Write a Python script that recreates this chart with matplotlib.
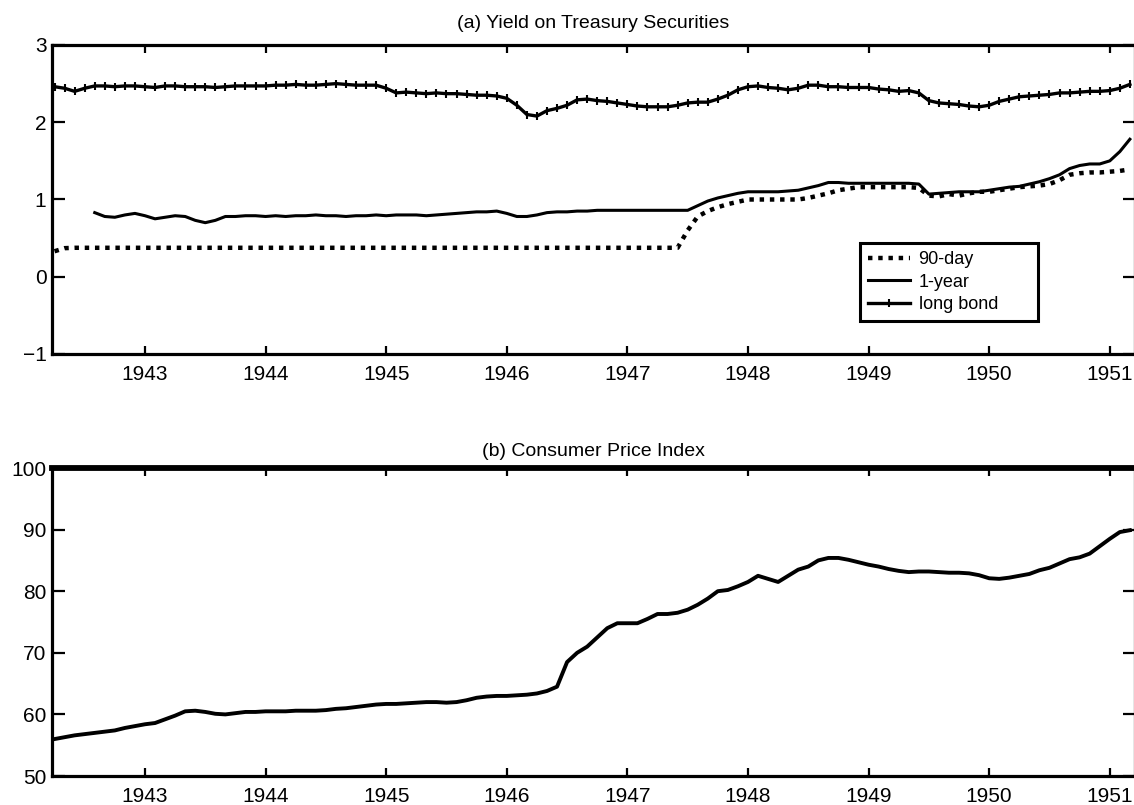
import numpy as np
import matplotlib
matplotlib.use("Agg")
import matplotlib.pyplot as plt

plt.rcParams['font.family'] = ['Liberation Sans', 'DejaVu Sans']

# Monthly observations, April 1942 .. March 1951
start_year = 1942.25
year_ticks = [1943, 1944, 1945, 1946, 1947, 1948, 1949, 1950, 1951]

bill_90day = [
    0.33, 0.37, 0.375, 0.375, 0.375, 0.375, 0.375, 0.375, 0.375,
    0.375, 0.375, 0.375, 0.375, 0.375, 0.375, 0.375, 0.375, 0.375, 0.375, 0.375, 0.375,
    0.375, 0.375, 0.375, 0.375, 0.375, 0.375, 0.375, 0.375, 0.375, 0.375, 0.375, 0.375,
    0.375, 0.375, 0.375, 0.375, 0.375, 0.375, 0.375, 0.375, 0.375, 0.375, 0.375, 0.375,
    0.375, 0.375, 0.375, 0.375, 0.375, 0.375, 0.375, 0.375, 0.375, 0.375, 0.375, 0.375,
    0.375, 0.375, 0.375, 0.375, 0.375, 0.375, 0.60, 0.78, 0.85, 0.90, 0.94, 0.97,
    1.00, 1.00, 1.00, 1.00, 1.00, 1.00, 1.02, 1.05, 1.08, 1.12, 1.14, 1.16,
    1.16, 1.16, 1.16, 1.16, 1.16, 1.15, 1.05, 1.04, 1.07, 1.05, 1.08, 1.10,
    1.10, 1.12, 1.14, 1.16, 1.17, 1.18, 1.20, 1.25, 1.32, 1.34, 1.35, 1.35,
    1.36, 1.37, 1.39,
]

note_1year = [
    np.nan, np.nan, np.nan, np.nan, 0.83, 0.78, 0.77, 0.80, 0.82,
    0.79, 0.75, 0.77, 0.79, 0.78, 0.73, 0.70, 0.73, 0.78, 0.78, 0.79, 0.79,
    0.78, 0.79, 0.78, 0.79, 0.79, 0.80, 0.79, 0.79, 0.78, 0.79, 0.79, 0.80,
    0.79, 0.80, 0.80, 0.80, 0.79, 0.80, 0.81, 0.82, 0.83, 0.84, 0.84, 0.85,
    0.82, 0.78, 0.78, 0.80, 0.83, 0.84, 0.84, 0.85, 0.85, 0.86, 0.86, 0.86,
    0.86, 0.86, 0.86, 0.86, 0.86, 0.86, 0.86, 0.92, 0.98, 1.02, 1.05, 1.08,
    1.10, 1.10, 1.10, 1.10, 1.11, 1.12, 1.15, 1.18, 1.22, 1.22, 1.21, 1.21,
    1.21, 1.21, 1.21, 1.21, 1.21, 1.20, 1.07, 1.08, 1.09, 1.10, 1.10, 1.10,
    1.12, 1.14, 1.16, 1.17, 1.20, 1.23, 1.27, 1.32, 1.40, 1.44, 1.46, 1.46,
    1.50, 1.62, 1.78,
]

long_bond = [
    2.46, 2.44, 2.40, 2.44, 2.47, 2.47, 2.46, 2.47, 2.47,
    2.46, 2.45, 2.47, 2.47, 2.46, 2.46, 2.46, 2.45, 2.46, 2.47, 2.47, 2.47,
    2.47, 2.48, 2.48, 2.49, 2.48, 2.48, 2.49, 2.50, 2.49, 2.48, 2.48, 2.48,
    2.44, 2.38, 2.39, 2.38, 2.37, 2.38, 2.37, 2.37, 2.36, 2.35, 2.35, 2.34,
    2.31, 2.22, 2.10, 2.08, 2.15, 2.18, 2.22, 2.29, 2.30, 2.28, 2.27, 2.25,
    2.23, 2.21, 2.20, 2.20, 2.20, 2.22, 2.25, 2.26, 2.26, 2.30, 2.35, 2.42,
    2.46, 2.47, 2.45, 2.44, 2.42, 2.44, 2.48, 2.48, 2.46, 2.46, 2.45, 2.45,
    2.45, 2.43, 2.42, 2.40, 2.41, 2.38, 2.28, 2.25, 2.24, 2.23, 2.21, 2.20,
    2.22, 2.27, 2.30, 2.33, 2.34, 2.35, 2.36, 2.38, 2.38, 2.39, 2.40, 2.40,
    2.41, 2.44, 2.49,
]

cpi = [
    56.0, 56.3, 56.6, 56.8, 57.0, 57.2, 57.4, 57.8, 58.1,
    58.4, 58.6, 59.2, 59.8, 60.5, 60.6, 60.4, 60.1, 60.0, 60.2, 60.4, 60.4,
    60.5, 60.5, 60.5, 60.6, 60.6, 60.6, 60.7, 60.9, 61.0, 61.2, 61.4, 61.6,
    61.7, 61.7, 61.8, 61.9, 62.0, 62.0, 61.9, 62.0, 62.3, 62.7, 62.9, 63.0,
    63.0, 63.1, 63.2, 63.4, 63.8, 64.5, 68.5, 70.0, 71.0, 72.5, 74.0, 74.8,
    74.8, 74.8, 75.5, 76.3, 76.3, 76.5, 77.0, 77.8, 78.8, 80.0, 80.2, 80.8,
    81.5, 82.5, 82.0, 81.5, 82.5, 83.5, 84.0, 85.0, 85.4, 85.4, 85.1, 84.7,
    84.3, 84.0, 83.6, 83.3, 83.1, 83.2, 83.2, 83.1, 83.0, 83.0, 82.9, 82.6,
    82.1, 82.0, 82.2, 82.5, 82.8, 83.4, 83.8, 84.5, 85.2, 85.5, 86.1, 87.3,
    88.5, 89.6, 89.9,
]

t = start_year + np.arange(len(cpi)) / 12.0

fig = plt.figure(figsize=(11.34, 8.05), dpi=100)
ax1 = fig.add_axes([0.04586, 0.56025, 0.9550, 0.38385])
ax2 = fig.add_axes([0.04586, 0.03602, 0.9550, 0.38261])

FS = 15
XLIM = (1942.229, 1951.209)

def style(ax, spine_lw=2.3):
    ax.set_xlim(*XLIM)
    ax.set_xticks(year_ticks)
    ax.set_xticklabels([str(y) for y in year_ticks])
    for s in ax.spines.values():
        s.set_linewidth(spine_lw)
        s.set_color('black')
    ax.tick_params(axis='x', direction='in', top=True, bottom=True,
                   length=6, width=1.6, pad=8, labelsize=FS)
    ax.tick_params(axis='y', direction='in', left=True, right=True,
                   length=9, width=1.6, pad=4, labelsize=FS)

# (a) yields
ax1.plot(t, bill_90day, color='black', lw=3.2, linestyle=(0, (1.0, 1.3)),
         dash_capstyle='butt', label='90-day')
ax1.plot(t, note_1year, color='black', lw=2.2, label='1-year')
ax1.plot(t, long_bond, color='black', lw=2.4, marker='|', ms=6, mew=1.5,
         label='long bond')
ax1.set_ylim(-1, 3)
ax1.set_yticks([-1, 0, 1, 2, 3])
ax1.set_yticklabels(['\u22121', '0', '1', '2', '3'])
style(ax1)
ax1.set_title('(a) Yield on Treasury Securities', fontsize=14, pad=12)

leg = ax1.legend(loc='upper left', bbox_to_anchor=(0.746, 0.159, 0.164, 0.2),
                 mode='expand', fontsize=13, frameon=True, fancybox=False,
                 borderaxespad=0, handlelength=2.3, handletextpad=0.5,
                 labelspacing=0.3, borderpad=0.45, framealpha=1)
leg.get_frame().set_edgecolor('black')
leg.get_frame().set_linewidth(2.2)

# (b) CPI
ax2.plot(t, cpi, color='black', lw=2.8)
ax2.set_ylim(50, 100)
ax2.set_yticks([50, 60, 70, 80, 90, 100])
style(ax2)
ax2.spines['top'].set_linewidth(4.2)
ax2.set_title('(b) Consumer Price Index', fontsize=14, pad=9)

fig.savefig('out.png', dpi=100)
